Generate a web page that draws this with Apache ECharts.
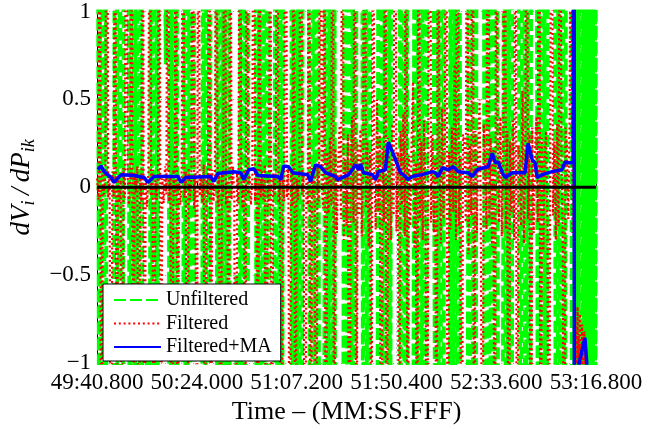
<!DOCTYPE html>
<html>
<head>
<meta charset="utf-8">
<script src="https://cdn.jsdelivr.net/npm/echarts@6/dist/echarts.min.js"></script>
<style>html,body{margin:0;padding:0;background:#fff}#c{width:670px;height:430px}</style>
</head>
<body>
<div id="c"></div>
<script>
// Time origin (seconds) = 49:40.800, axis span 216 s
const T0 = 2980.8;
const T_SPAN = 216;
const X_TICK = 43.2;
const Y_TICKS = [-1, -0.5, 0, 0.5, 1];

// Unfiltered (green), sampled every 0.9 s from T0
const GREEN_STEP = 0.9;
const greenVals = [
 4.6,-2.3,7.1,-3.8,2.9,-5.4,-3.3,-6.2,-2.4,8.5,
 -3.7,2.6,-5.1,3.4,6.8,2.2,-4.1,9.3,-2.7,3.9,
 -6.4,4.4,-2.5,-7.6,-0.6,-3.2,2.8,-4.9,6.1,-3.0,
 5.3,8.2,2.4,0.7,4.7,-4.0,2.6,-5.8,3.6,-2.9,
 -7.4,-4.2,3.3,-7.0,2.8,-4.6,9.1,-2.5,-5.6,-2.3,
 -6.9,3.5,-4.3,8.8,-2.6,3.9,2.7,5.5,-4.1,7.8,
 -2.9,3.4,-5.2,8.0,-3.6,-2.2,-5.9,-0.5,-4.8,2.6,
 -7.3,3.2,-4.5,2.3,6.2,9.0,3.8,-4.7,2.8,-6.4,
 2.9,-3.5,5.7,-2.4,-8.6,-3.0,4.4,-6.0,2.5,-3.1,
 7.2,4.8,2.6,5.3,-3.5,8.1,-2.7,3.7,-6.5,2.3,
 4.9,2.5,0.8,-9.4,3.3,-2.6,6.6,-4.0,-2.9,-5.0,
 7.7,-3.1,2.4,-6.3,4.6,-7.5,-3.8,-2.8,-5.4,3.9,
 -2.2,6.9,-4.3,2.5,-8.4,4.2,3.0,7.0,-2.9,5.5,
 -2.7,3.6,-6.3,-2.4,-4.5,-0.7,8.9,-2.8,3.6,-7.2,
 4.7,-2.5,6.0,3.4,2.7,5.8,-3.3,9.2,-4.1,2.6,
 -7.3,-5.0,-2.3,4.4,-3.0,6.8,-2.6,3.3,-8.3,4.9,
 2.7,5.6,0.6,-3.4,2.5,-6.6,7.9,-2.8,-4.3,-9.0,
 3.1,-5.1,2.4,-7.6,5.5,-3.2,-2.8,-6.5,-3.9,4.4,
 -8.7,2.5,-3.6,6.1,2.9,4.8,2.3,-7.7,4.0,-3.5,
 6.2,-2.4,9.5,-3.2,-5.0,-2.7,4.3,-6.4,2.6,-8.5,
 3.8,5.9,3.4,0.5,-2.6,7.4,-4.0,2.9,-5.7,3.1,
 3.7,6.0,-2.3,4.6,-8.8,3.0,-5.3,2.8,6.7,2.5,
 4.5,-7.1,3.1,-5.2,2.8,-4.1,6.2,3.3,2.5,-8.2
];
// Unfiltered tail after the event, sampled every 0.25 s from T0+206.5
const TAIL_START = 206.5;
const TAIL_STEP = 0.25;
const greenTail = [
 -3.0,3.2,-2.8,3.4,-3.1,2.9,-3.3,3.0,-2.7,3.5,3.1,
 3.3,2.9,3.4,3.0,
 -3.2,3.1,-2.9,3.4,-3.0,2.8,-3.5,3.2,-2.7,3.3,-3.1,2.9,-3.4,3.0,-2.8,3.5,-3.2,2.7,-3.0,3.3,-2.9,3.1,-3.4,3.0
];

// Filtered (red), sampled every 0.6 s from T0
const RED_STEP = 0.6;
const redVals = [
 0.05,-0.07,2.9,-3.2,0.08,-0.04,0.1,3.3,-0.06,0.07,-2.8,0.09,-0.05,3.1,-2.7,
 0.06,-0.09,0.04,-3.4,0.11,-0.06,2.6,0.07,-0.1,0.05,3.0,-2.9,0.08,-0.03,0.12,
 -2.5,0.07,-0.08,3.5,-3.0,0.06,-0.11,0.09,2.7,-0.05,0.1,-3.3,0.04,-0.07,0.08,
 3.2,-2.6,0.05,-0.09,0.12,-0.04,2.8,-0.08,0.06,-3.1,0.1,-0.05,3.6,-3.4,0.07,
 -0.1,0.04,2.5,-0.06,0.09,-2.9,0.11,-0.07,0.05,3.0,-0.12,0.08,-2.7,3.3,-0.05,
 0.07,-0.09,0.13,-3.5,0.06,-0.04,2.9,-3.0,0.1,-0.08,0.05,2.6,-0.11,0.07,-3.2,
 0.09,-0.06,3.4,-0.1,0.04,-2.8,3.1,-0.07,0.12,-0.05,-3.6,0.08,-0.09,2.7,0.06,
 -0.12,0.1,-2.6,3.2,-0.04,0.07,-0.1,0.05,3.5,-0.08,0.11,-3.0,2.8,-0.06,0.09,
 -0.07,0.13,-3.3,0.06,-0.1,3.0,-2.9,0.08,-0.05,0.1,2.4,-0.09,0.04,-3.7,0.07,
 -0.08,3.3,-0.06,0.12,-2.5,0.09,-0.11,2.9,-3.1,0.05,-0.07,0.1,3.6,-0.04,0.08,
 -2.8,0.06,-0.1,3.1,-3.4,0.11,-0.05,0.07,-2.6,0.13,-0.08,2.7,0.04,-0.12,3.2,
 -2.9,0.2,-0.15,0.28,-0.1,3.4,-3.0,0.22,-0.26,0.14,0.35,-0.18,2.6,-0.3,0.16,
 -0.22,0.3,-3.2,0.12,0.4,-0.2,3.1,-2.8,0.25,-0.16,0.33,-0.28,0.18,3.7,-0.12,
 0.26,-0.34,0.2,-2.7,3.0,0.15,-0.24,0.5,-0.14,0.3,-3.5,0.22,-0.2,2.8,-3.1,
 0.28,0.12,-0.3,0.36,-0.16,3.3,-0.25,0.2,-2.6,0.32,-0.1,0.42,-0.28,3.5,-2.9,
 0.18,-0.22,0.3,0.6,-0.35,0.14,-3.0,2.7,-0.18,0.26,-0.3,0.38,-0.12,-3.3,0.24,
 3.6,-0.2,0.3,-0.26,0.16,-2.8,3.2,0.22,-0.32,0.45,-0.18,0.28,2.9,-3.4,0.2,
 -0.24,0.34,-0.14,0.7,-0.3,3.1,-0.22,0.18,-3.6,0.3,0.26,-0.2,2.5,-0.38,0.24,
 -0.16,3.8,-3.0,0.32,-0.26,0.2,0.5,-0.3,-2.7,0.36,0.14,-0.24,3.3,-0.18,0.28,
 -0.34,0.22,-3.1,2.9,0.3,-0.2,0.4,-0.28,0.18,3.4,-0.24,0.32,-2.8,0.26,-0.14,
 0.38,-0.3,3.0,-3.5,0.24,0.16,-0.22,0.55,-0.32,0.2,2.7,-0.18,0.3,-3.2,0.34,
 -0.26,0.22,0.4,-0.2,3.6,-2.9,0.28,-0.36,0.18,0.32,-0.24,-3.0,0.3,2.8,-0.16,
 0.26,-0.3,0.36,-0.22,3.2,0.2,-0.28,-3.4,0.34,0.24,-0.18,0.42,3.0,-0.26,0.28
];
const redTail = [
 -0.7,-1.2,-0.75,-1.3,-0.8,-1.1,-0.68,-1.25,-0.85,-1.15,-0.72,-1.3,-0.9,-1.2,-0.78,-1.4,-0.95,-1.25,-0.82,-1.35,-0.9,
 -1.5,-1.9,-1.6,-2.0,-1.7,-1.8,-2.1,-1.6,-1.9,-1.7,-2.0,-1.8,-1.6,-1.9,-2.2,-1.7,-1.8,-2.0
];

// Filtered + moving average (blue): time offsets (s) and values
const blueT = [0.4,1.7,3.0,6.0,7.3,10.4,16.0,20.3,22.0,24.6,35.0,36.3,38.4,49.2,50.5,52.3,59.2,62.2,63.5,65.7,67.8,69.6,78.2,79.5,80.8,82.9,84.7,91.2,92.4,94.6,96.8,98.9,103.2,104.1,106.3,108.9,111.9,113.2,114.0,115.3,119.2,120.5,121.8,124.8,126.1,127.9,129.2,131.3,133.5,134.4,136.5,140.8,145.2,146.4,147.7,149.5,152.1,154.2,156.4,160.7,162.4,164.6,167.2,169.3,171.1,172.4,173.7,175.4,176.7,179.7,185.3,186.6,188.4,189.6,190.5,192.7,197.0,201.3,202.6,203.9,206.1,206.5,206.7,208.0,208.7,211.2,212.0,212.6,216.0];
const blueV = [0.10,0.122,0.089,0.056,0.028,0.072,0.067,0.056,0.028,0.061,0.061,0.028,0.056,0.061,0.033,0.078,0.089,0.083,0.044,0.10,0.106,0.067,0.061,0.044,0.122,0.117,0.083,0.072,0.033,0.128,0.117,0.083,0.061,0.044,0.056,0.072,0.128,0.10,0.133,0.083,0.072,0.044,0.089,0.10,0.256,0.20,0.156,0.083,0.061,0.044,0.061,0.072,0.089,0.083,0.061,0.111,0.10,0.117,0.089,0.083,0.061,0.10,0.111,0.117,0.194,0.139,0.144,0.083,0.056,0.083,0.083,0.25,0.156,0.139,0.056,0.072,0.089,0.10,0.144,0.139,0.139,6.0,-6.0,-1.4,-1.0,-0.856,-1.0,-1.5,-1.6];

// Zero reference line
const zeroV = [0, 0];

const SERIF = 'Liberation Serif';

const greenData = greenVals.map((v, i) => [T0 + i * GREEN_STEP, v])
  .concat(greenTail.map((v, i) => [T0 + TAIL_START + i * TAIL_STEP, v]));
const redData = redVals.map((v, i) => [T0 + i * RED_STEP, v])
  .concat(redTail.map((v, i) => [T0 + TAIL_START + i * TAIL_STEP, v]));
const blueData = blueT.map((t, i) => [T0 + t, blueV[i]]);
const zeroData = [[T0, zeroV[0]], [T0 + T_SPAN, zeroV[1]]];

function fmtTime(v) {
  const m = Math.floor(v / 60 + 1e-9);
  let s = v - m * 60;
  if (s < 0) s = 0;
  return m + ':' + (s < 10 ? '0' : '') + s.toFixed(3);
}

const chart = echarts.init(document.getElementById('c'), null, {renderer: 'canvas'});
chart.setOption({
  animation: false,
  backgroundColor: '#fff',
  grid: {left: 96, right: 74, top: 8, bottom: 62, containLabel: false},
  xAxis: {
    type: 'value',
    min: T0, max: T0 + T_SPAN, interval: X_TICK,
    name: 'Time – (MM:SS.FFF)',
    nameLocation: 'middle', nameGap: 31,
    nameTextStyle: {fontFamily: SERIF, fontSize: 26, color: '#000'},
    axisLine: {show: true, lineStyle: {color: '#000', width: 1}},
    axisTick: {show: true, inside: true, length: 5, lineStyle: {color: '#000'}},
    axisLabel: {fontFamily: SERIF, fontSize: 23, color: '#000', margin: 8, formatter: fmtTime},
    splitLine: {show: true, lineStyle: {color: '#999', type: [1, 3], width: 1}}
  },
  yAxis: {
    type: 'value',
    min: -1, max: 1, interval: 0.5,
    name: '{it|dV}{sub|i}{it|\u2009/\u2009dP}{sub|ik}',
    nameLocation: 'middle', nameRotate: 90, nameGap: 53,
    nameTextStyle: {
      fontFamily: SERIF, color: '#000',
      rich: {
        it: {fontFamily: SERIF, fontStyle: 'italic', fontSize: 27, color: '#000', lineHeight: 34, verticalAlign: 'middle'},
        sub: {fontFamily: SERIF, fontStyle: 'italic', fontSize: 18, color: '#000', lineHeight: 34, verticalAlign: 'bottom', padding: [10, 0, 0, 0]}
      }
    },
    axisLine: {show: true, lineStyle: {color: '#000', width: 1}},
    axisTick: {show: true, inside: true, length: 5, lineStyle: {color: '#000'}},
    axisLabel: {fontFamily: SERIF, fontSize: 23, color: '#000', margin: 6,
      formatter: v => (Y_TICKS.indexOf(v) >= 0 ? String(v).replace('-', '\u2212') : '')},
    splitLine: {show: true, lineStyle: {color: '#999', type: [1, 3], width: 1}}
  },
  legend: {
    data: ['Unfiltered', 'Filtered', 'Filtered+MA'],
    orient: 'vertical',
    left: 103, top: 284,
    padding: [6, 9, 4, 10],
    itemWidth: 47, itemHeight: 14, itemGap: 3.5,
    itemStyle: {opacity: 0},
    backgroundColor: '#fff', borderColor: '#000', borderWidth: 1, borderRadius: 0,
    textStyle: {fontFamily: SERIF, fontSize: 20, color: '#000'}
  },
  series: [
    {
      name: 'Unfiltered', type: 'line', data: greenData, showSymbol: false, symbol: 'none',
      sampling: false, silent: true, z: 2, clip: true,
      lineStyle: {color: '#00ff00', width: 3.8, type: [12, 4]},
      itemStyle: {color: '#00ff00'}
    },
    {
      name: 'Filtered', type: 'line', data: redData, showSymbol: false, symbol: 'none',
      silent: true, z: 3, clip: true,
      lineStyle: {color: '#ff0000', width: 2.2, type: [2, 2.8]},
      itemStyle: {color: '#ff0000'}
    },
    {
      name: 'Filtered+MA', type: 'line', data: blueData, showSymbol: false, symbol: 'none',
      silent: true, z: 4, clip: true,
      lineStyle: {color: '#0000ff', width: 3.5},
      itemStyle: {color: '#0000ff'}
    },
    {
      name: 'zero', type: 'line', data: zeroData, showSymbol: false, symbol: 'none',
      silent: true, z: 5, clip: true,
      lineStyle: {color: '#000', width: 3}
    }
  ]
});
</script>
</body>
</html>
